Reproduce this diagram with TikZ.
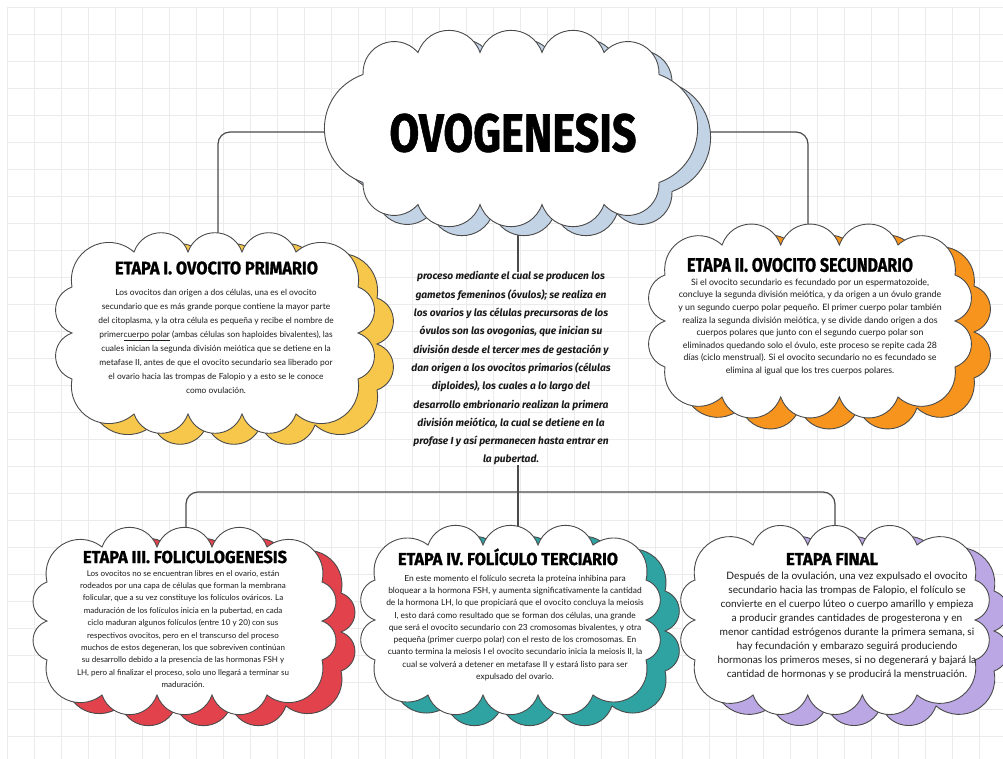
\documentclass[tikz,border=0pt]{standalone}
\usepackage{fontspec}
\usepackage{graphicx}
\setmainfont{Lato}
\newfontfamily\ttlfont{Fira Sans}[BoldFeatures={FakeBold=1.2}]
\newfontfamily\cenfont{Fira Sans}
\definecolor{cyellow}{HTML}{F6C74B}
\definecolor{corange}{HTML}{F7941D}
\definecolor{cred}{HTML}{E2424C}
\definecolor{cteal}{HTML}{2FA3A2}
\definecolor{clav}{HTML}{BBA7E3}
\definecolor{cblue}{HTML}{C3D3E6}
\definecolor{outl}{HTML}{4A4A4A}
\definecolor{gridc}{HTML}{EBEBEB}
\definecolor{txt}{HTML}{1A1A1A}
\tikzset{
  bump/.style={bend left=70, looseness=1.3},
  cloudline/.style={draw=outl, line width=0.9pt},
  conn/.style={draw=outl, line width=1.2pt, rounded corners=12pt},
  gridline/.style={draw=gridc, line width=0.7pt},
  body/.style={inner sep=0pt, align=center, text=txt},
}
% cx, cy, a, b, rx, ry, nx, ny
\newcommand\cloudpath[8]{%
 ({#1-#3+#5},{#2-#4})
 \foreach \i in {1,...,#7}{ to[bump] ({#1-#3+#5+\i*(2*#3-2*#5)/#7},{#2-#4}) }
 to[bump] ({#1+#3},{#2-#4+#6})
 \foreach \i in {1,...,#8}{ to[bump] ({#1+#3},{#2-#4+#6+\i*(2*#4-2*#6)/#8}) }
 to[bump] ({#1+#3-#5},{#2+#4})
 \foreach \i in {1,...,#7}{ to[bump] ({#1+#3-#5-\i*(2*#3-2*#5)/#7},{#2+#4}) }
 to[bump] ({#1-#3},{#2+#4-#6})
 \foreach \i in {1,...,#8}{ to[bump] ({#1-#3},{#2+#4-#6-\i*(2*#4-2*#6)/#8}) }
 to[bump] ({#1-#3+#5},{#2-#4}) -- cycle}
\def\sdx{18}\def\sdy{10}
\newcommand\cloud[9]{%
 \filldraw[cloudline, fill=#9, shift={(\sdx,\sdy)}] \cloudpath{#1}{#2}{#3}{#4}{#5}{#6}{#7}{#8};
 \filldraw[cloudline, fill=white] \cloudpath{#1}{#2}{#3}{#4}{#5}{#6}{#7}{#8};}
\newcommand\ttl[3]{\resizebox{#1}{#2}{\ttlfont\bfseries\raisebox{0pt}[\fontcharht\font`E][0pt]{#3}}}
\begin{document}
\begin{tikzpicture}[x=1pt,y=-1pt]
\useasboundingbox (0,0) rectangle (1003,759);
\fill[white] (0,0) rectangle (1003,759);
\foreach \gx in {7,34,...,1003} \draw[gridline] (\gx,7) -- (\gx,759);
\foreach \gy in {7,34,...,759} \draw[gridline] (7,\gy) -- (1003,\gy);

\coordinate (T-w) at (365,132);
\coordinate (T-e) at (655,132);
\coordinate (T-s) at (518,190);
\coordinate (E1-n) at (218,260);
\coordinate (E2-n) at (808,255);
\coordinate (E3-n) at (186,560);
\coordinate (E4-n) at (518,560);
\coordinate (E5-n) at (835,560);
\coordinate (J) at (518,492);

\node[body, font=\cenfont\bfseries\itshape\fontsize{10.2}{18.3}\selectfont] (ctext) at (511,368.5) {proceso mediante el cual se producen los\\
gametos femeninos (óvulos); se realiza en\\
los ovarios y las células precursoras de los\\
óvulos son las ovogonias, que inician su\\
división desde el tercer mes de gestación y\\
dan origen a los ovocitos primarios (células\\
diploides), los cuales a lo largo del\\
desarrollo embrionario realizan la primera\\
división meiótica, la cual se detiene en la\\
profase I y así permanecen hasta entrar en\\
la pubertad.};

% connectors
\draw[conn] (T-w) -| (E1-n);
\draw[conn] (T-e) -| (E2-n);
\draw[conn] (T-s) -- (T-s |- ctext.north);
\draw[conn] (J |- ctext.south) -- (E4-n);
\draw[conn] (E3-n) |- (J) -| (E5-n);

% clouds
\def\sdx{13}\def\sdy{9}
\cloud{511}{128.5}{148}{76}{55}{22}{3}{1}{cblue}
\def\sdx{19}\def\sdy{11}
\cloud{215}{333}{143}{81}{62}{35}{3}{2}{cyellow}
\cloud{810}{321}{145}{76}{57}{30}{3}{2}{corange}
\cloud{184.5}{621}{137.5}{74}{55}{35}{3}{2}{cred}
\cloud{510.5}{620}{135.5}{75}{53}{35}{3}{2}{cteal}
\cloud{835}{620}{140}{75}{58}{35}{3}{2}{clav}

% titles
\node[inner sep=0pt] (title) at (513,133) {\ttl{247pt}{37pt}{OVOGENESIS}};
\node[inner sep=0pt] (e1t) at (216.5,268) {\ttl{203pt}{12.5pt}{ETAPA I. OVOCITO PRIMARIO}};
\node[inner sep=0pt] (e2t) at (800,265) {\ttl{226pt}{13.5pt}{ETAPA II. OVOCITO SECUNDARIO}};
\node[inner sep=0pt] (e3t) at (185,557) {\ttl{204pt}{12pt}{ETAPA III. FOLICULOGENESIS}};
\node[inner sep=0pt] (e4t) at (508,559) {\ttl{220pt}{12pt}{ETAPA IV. FOLÍCULO TERCIARIO}};
\node[inner sep=0pt] (e5t) at (832,559) {\ttl{92pt}{12pt}{ETAPA FINAL}};

% bodies
\node[body, font=\fontsize{8.4}{13.9}\selectfont] (e1) at (216,341.5) {Los ovocitos dan origen a dos células, una es el ovocito\\
secundario que es más grande porque contiene la mayor parte\\
del citoplasma, y la otra célula es pequeña y recibe el nombre de\\
primer\underline{cuerpo polar} (ambas células son haploides bivalentes), las\\
cuales inician la segunda división meiótica que se detiene en la\\
metafase II, antes de que el ovocito secundario sea liberado por\\
el ovario hacia las trompas de Falopio y a esto se le conoce\\
como ovulación.};
\node[body, font=\fontsize{8.8}{12.6}\selectfont] (e2) at (810,327) {Si el ovocito secundario es fecundado por un espermatozoide,\\
concluye la segunda división meiótica, y da origen a un óvulo grande\\
y un segundo cuerpo polar pequeño. El primer cuerpo polar también\\
realiza la segunda división meiótica, y se divide dando origen a dos\\
cuerpos polares que junto con el segundo cuerpo polar son\\
eliminados quedando solo el óvulo, este proceso se repite cada 28\\
días (ciclo menstrual). Si el ovocito secundario no es fecundado se\\
elimina al igual que los tres cuerpos polares.};
\node[body, font=\fontsize{8.0}{12.4}\selectfont] (e3) at (183,629) {Los ovocitos no se encuentran libres en el ovario, están\\
rodeados por una capa de células que forman la membrana\\
folicular, que a su vez constituye los folículos ováricos. La\\
maduración de los folículos inicia en la pubertad, en cada\\
ciclo maduran algunos folículos (entre 10 y 20) con sus\\
respectivos ovocitos, pero en el transcurso del proceso\\
muchos de estos degeneran, los que sobreviven continúan\\
su desarrollo debido a la presencia de las hormonas FSH y\\
LH, pero al finalizar el proceso, solo uno llegará a terminar su\\
maduración.};
\node[body, font=\fontsize{8.4}{12.3}\selectfont] (e4) at (515,628) {En este momento el folículo secreta la proteína inhibina para\\
bloquear a la hormona FSH, y aumenta significativamente la cantidad\\
de la hormona LH, lo que propiciará que el ovocito concluya la meiosis\\
I, esto dará como resultado que se forman dos células, una grande\\
que será el ovocito secundario con 23 cromosomas bivalentes, y otra\\
pequeña (primer cuerpo polar) con el resto de los cromosomas. En\\
cuanto termina la meiosis I el ovocito secundario inicia la meiosis II, la\\
cual se volverá a detener en metafase II y estará listo para ser\\
expulsado del ovario.};
\node[body, font=\fontsize{10.2}{13.9}\selectfont] (e5) at (847,625.5) {Después de la ovulación, una vez expulsado el ovocito\\
secundario hacia las trompas de Falopio, el folículo se\\
convierte en el cuerpo lúteo o cuerpo amarillo y empieza\\
a producir grandes cantidades de progesterona y en\\
menor cantidad estrógenos durante la primera semana, si\\
hay fecundación y embarazo seguirá produciendo\\
hormonas los primeros meses, si no degenerará y bajará la\\
cantidad de hormonas y se producirá la menstruación.};
\end{tikzpicture}
\end{document}
